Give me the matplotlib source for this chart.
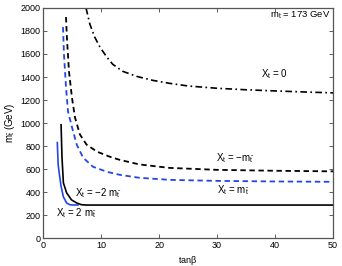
import matplotlib
matplotlib.use("Agg")
import matplotlib.pyplot as plt

plt.rcParams['font.family'] = ['Liberation Sans', 'DejaVu Sans']
plt.rcParams['mathtext.fontset'] = 'custom'
plt.rcParams['mathtext.rm'] = 'Liberation Sans'
plt.rcParams['mathtext.it'] = 'Liberation Sans:italic'

# X_t = 0 (dash-dot)
tb_x0 = [7.4, 8.06, 8.9, 9.8, 11.0, 12.0, 13.7, 16.1, 18.9, 21.8, 25, 30, 35, 40, 45, 50]
m_x0 = [2000, 1860, 1747, 1660, 1572, 1511, 1450, 1406, 1371, 1345, 1322, 1302, 1289, 1279, 1270, 1262]

# X_t = -m (black dashed)
tb_xm = [3.95, 4.1, 4.46, 4.97, 5.5, 6.35, 7.5, 9.3, 11.5, 13.2, 16.6, 21.8, 30, 40, 50]
m_xm = [1921, 1747, 1450, 1223, 1048, 900, 812, 751, 707, 680, 640, 610, 593, 585, 580]

# X_t = +m (blue dashed)
tb_xp = [3.43, 3.6, 3.95, 4.3, 5.0, 5.8, 6.9, 8.6, 11.0, 13.2, 16.6, 21.8, 30, 40, 50]
m_xp = [1834, 1598, 1310, 1100, 960, 812, 699, 620, 576, 550, 524, 506, 497, 492, 489]

# X_t = -2m (black solid)
tb_xm2 = [3.1, 3.26, 3.5, 4.06, 4.9, 5.8, 6.6, 7.5, 10, 20, 30, 40, 50]
m_xm2 = [985, 700, 480, 393, 332, 305, 290, 287, 287, 287, 287, 287, 287]

# X_t = +2m (blue solid)
tb_xp2 = [2.45, 2.6, 2.9, 3.1, 3.5, 4.06, 4.6, 5.0, 6.0]
m_xp2 = [830, 637, 520, 450, 358, 305, 290, 288, 287]

fig = plt.figure(figsize=(3.42, 2.66), dpi=100)
ax = fig.add_axes([0.126, 0.105, 0.848, 0.865])

blue = '#2546e6'
ax.plot(tb_x0, m_x0, color='black', lw=1.2, linestyle=(0, (4, 2, 1, 2)))
ax.plot(tb_xm, m_xm, color='black', lw=1.3, linestyle=(0, (3, 2)))
ax.plot(tb_xp, m_xp, color=blue, lw=1.3, linestyle=(0, (3, 2)))
ax.plot(tb_xp2, m_xp2, color=blue, lw=1.2)
ax.plot(tb_xm2, m_xm2, color='black', lw=1.2)

ax.set_xlim(0, 50)
ax.set_ylim(0, 2000)
ax.set_xticks([0, 10, 20, 30, 40, 50])
ax.set_yticks(range(0, 2001, 200))
ax.tick_params(direction='in', length=3, width=0.6, labelsize=6.5, top=True, right=True,
               color='#444444', pad=2)
for s in ax.spines.values():
    s.set_color('#555555')
    s.set_linewidth(0.9)

ax.set_xlabel(r'tan$\mathregular{\beta}$', fontsize=6.5, labelpad=3)
ax.set_ylabel(r'm$_{\mathregular{\tilde{t}}}$ (GeV)', fontsize=7, labelpad=2)

fs = 7
ax.text(49.6, 1935, r'm$_\mathregular{t}$ = 173 GeV', fontsize=6.8, va='center', ha='right')
ax.text(37.5, 1424, r'X$_\mathregular{t}$ = 0', fontsize=fs, va='center')
ax.text(29.8, 699, r'X$_\mathregular{t}$ = $-$m$_{\mathregular{\tilde{t}}}$', fontsize=fs, va='center')
ax.text(30.0, 419, r'X$_\mathregular{t}$ = m$_{\mathregular{\tilde{t}}}$', fontsize=fs, va='center')
ax.text(5.5, 393, r'X$_\mathregular{t}$ = $-$2 m$_{\mathregular{\tilde{t}}}$', fontsize=fs, va='center')
ax.text(2.2, 218, r'X$_\mathregular{t}$ = 2 m$_{\mathregular{\tilde{t}}}$', fontsize=fs, va='center')

fig.savefig('out.png', dpi=100)
